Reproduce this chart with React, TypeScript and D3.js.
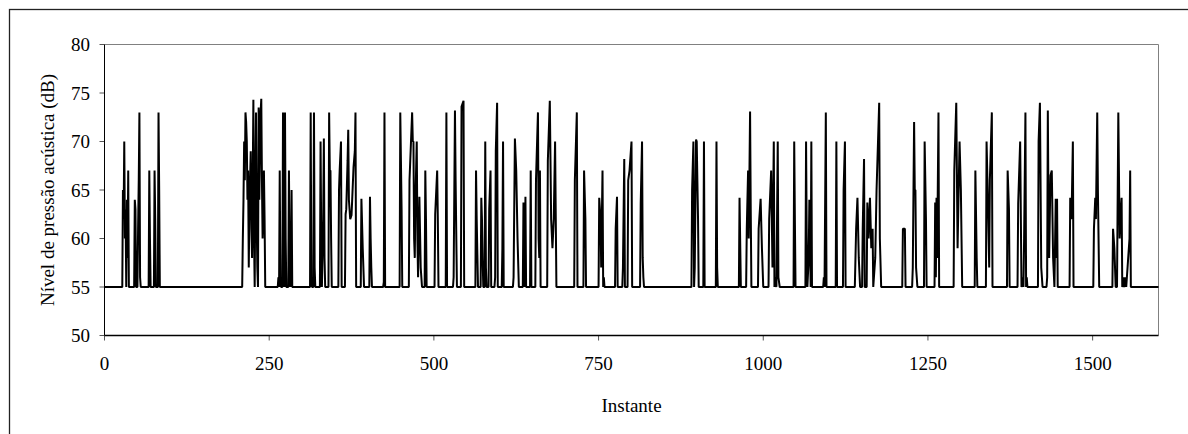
import React from 'react';
import * as d3 from 'd3';

// Instants (x) and sound pressure levels (dB) of the line's vertices
const instants: number[] = [
  0,
  27, 28, 29, 30, 31, 32, 33, 34, 35, 36, 37,
  45, 46, 47, 48,
  50, 51, 52, 53, 54, 55,
  67, 68, 69, 70,
  75, 76, 77, 78,
  81, 82, 83, 84,
  209, 210, 211, 212, 213, 214, 215, 216, 217, 218, 219, 220, 221, 222, 223, 224, 225, 226, 227, 228, 229, 230, 231, 232, 233, 234, 235, 236, 237, 238, 239, 240, 241, 242, 243, 244,
  263, 264, 265, 266, 267, 268,
  270, 271, 272, 273, 274, 275, 276,
  279, 280, 281, 282, 283, 284, 285,
  312, 313, 314, 315,
  317, 318, 319, 320,
  327, 328, 329, 330,
  332, 333, 334, 335,
  340, 341, 342, 343, 344, 345,
  355, 356, 357, 359, 360,
  365, 366, 367, 369, 370, 371, 372, 373, 375, 376, 378, 380, 381, 382,
  389, 390, 392, 394,
  402, 403, 404, 405, 406,
  423, 424, 425, 426,
  448, 449, 451, 452,
  462, 463, 467, 468, 469, 470, 471, 472, 474, 475, 476, 478, 480, 482,
  486, 487, 488, 489,
  501, 502, 505, 506, 507,
  518, 519, 520,
  529, 530, 532, 533, 535,
  541, 542, 545, 546,
  563, 564, 565, 567,
  571, 572, 573, 574, 575,
  577, 578, 579, 580,
  583, 584, 586, 587,
  592, 593, 594, 596, 597,
  603, 604, 605, 606,
  620, 621, 623, 625, 627, 629,
  635, 636, 637, 638, 639, 640,
  646, 647, 648,
  654, 655, 658, 659, 660, 661, 662,
  672, 673, 676, 678, 680, 682, 684, 686,
  713, 714, 717, 718,
  727, 728, 730, 731,
  750, 751, 753, 754, 756, 757, 758, 759,
  775, 776, 778, 779,
  786, 787, 789, 790,
  794, 795, 797, 800, 801,
  813, 814, 816, 817, 818, 819,
  891, 892, 894, 895, 896, 898, 899, 901, 902,
  909, 910, 911,
  928, 929, 930, 931,
  963, 964, 966,
  974, 975, 977, 978, 980, 981, 982,
  992, 993, 996, 998, 1000,
  1008, 1009, 1012, 1014, 1016, 1017, 1018, 1020, 1022, 1023, 1025,
  1046, 1047, 1048, 1049,
  1064, 1065, 1066, 1067, 1069, 1070, 1072, 1073, 1074,
  1091, 1092, 1093, 1095, 1096,
  1110, 1111, 1112,
  1121, 1122, 1124, 1125,
  1139, 1141, 1143, 1145, 1147,
  1150, 1151, 1153, 1154,
  1157, 1158, 1160, 1162, 1164, 1166, 1167,
  1170, 1172, 1176, 1177, 1179,
  1211, 1212, 1215, 1216,
  1226, 1227, 1229, 1230, 1231, 1232, 1234,
  1244, 1245, 1247, 1248,
  1260, 1261, 1262, 1263, 1264, 1266, 1267,
  1289, 1290, 1293, 1295, 1298, 1300, 1302,
  1321, 1322, 1324, 1325,
  1338, 1339, 1341, 1343, 1344, 1347, 1348,
  1370, 1371, 1373, 1374,
  1386, 1387, 1390, 1392, 1394, 1395, 1396, 1398, 1399, 1400, 1401,
  1417, 1418, 1420, 1422, 1424,
  1430, 1431, 1432, 1433, 1434, 1436, 1438, 1440, 1442, 1444, 1445, 1446, 1447,
  1465, 1466, 1468, 1470, 1471,
  1501, 1502, 1504, 1505, 1507, 1508, 1510,
  1530, 1531, 1533, 1535, 1537, 1539, 1541, 1543, 1544, 1545, 1547, 1548, 1550, 1551, 1556, 1557, 1558,
  1600,
];

const levels: number[] = [
  55,
  55, 65, 62, 70, 60, 63, 55, 64, 58, 67, 55,
  55, 64, 63, 55,
  55, 61, 66, 73, 56, 55,
  55, 67, 60, 55,
  55, 67, 62, 55,
  55, 73, 65, 55,
  55, 60, 64, 70, 66, 73, 72, 70, 64, 67, 57, 63, 66, 69, 61, 58, 66, 74.3, 60, 55, 66, 73, 62, 57, 55, 73.5, 64, 69, 73, 74.4, 66, 60, 63, 67, 62, 55,
  55, 56, 55, 67, 56, 55,
  55, 73, 58, 55, 73, 60, 55,
  55, 67, 58, 55, 56, 65, 55,
  55, 73, 56, 55,
  55, 73, 57, 55,
  55, 70, 60, 55,
  62, 70.3, 58, 55,
  55, 73, 67, 67, 60, 55,
  55, 65, 67, 70, 55,
  55, 62.5, 63, 68, 71.2, 64, 63, 62, 62.4, 64, 67.3, 69, 73, 55,
  55, 64.1, 59, 55,
  55, 64.3, 60, 57, 55,
  55, 55.5, 73, 55,
  55, 73, 63, 55,
  55, 66, 73, 70, 70, 60, 58, 64, 70, 60, 56, 64.3, 57, 55,
  55, 67, 62, 55,
  55, 62.5, 67, 62, 55,
  55, 73, 55,
  55, 56, 73.2, 66, 55,
  55, 73.6, 74.2, 55,
  55, 67, 62, 55,
  55, 64.2, 62, 58, 55,
  55, 70, 57, 55,
  55, 63, 67, 55,
  55, 56, 69, 74, 55,
  55, 59, 70, 55,
  55, 56, 70.3, 67, 60, 55,
  55, 63.7, 60, 55, 64.3, 55,
  55, 67, 55,
  55, 66, 73, 60, 58, 67, 55,
  55, 68, 74.2, 62, 59, 62, 70, 55,
  55, 66, 73, 55,
  55, 67, 62, 55,
  55, 64.2, 62, 57, 67, 55, 56, 55,
  55, 61, 64.3, 55,
  55, 57, 68.2, 55,
  55, 66, 67, 70, 55,
  55, 63.6, 70, 58, 56, 55,
  55, 65, 70, 55, 57, 70.2, 70, 62, 55,
  55, 70, 55,
  55, 70, 57, 55,
  55, 64.2, 55,
  55, 61, 67, 60, 73.1, 63, 55,
  55, 61, 64.1, 59, 55,
  55, 62, 67, 57, 70, 55, 56, 55, 70, 56, 55,
  55, 70, 62, 55,
  55, 70, 60, 55, 58, 64, 55, 70, 55,
  55, 56, 55, 73, 55,
  55, 70, 55,
  55, 65, 70, 55,
  55, 61, 64.2, 58, 55,
  55, 61, 68.2, 55,
  55, 63.7, 60, 64.2, 59, 61, 55,
  58, 65, 74, 60, 55,
  55, 61, 61, 55,
  55, 57, 72, 65, 65, 57, 55,
  55, 70, 62, 55,
  55, 63.7, 56, 64.2, 58, 73, 55,
  55, 67, 74, 59, 70, 65, 55,
  55, 67, 58, 55,
  55, 70, 64, 57, 66, 73, 55,
  55, 67, 63, 55,
  55, 63.6, 70, 55, 56, 55, 60, 73, 55, 56, 55,
  55, 70, 74, 57, 55,
  55, 56, 73.2, 63, 58, 66.5, 67, 58, 55, 64.1, 58, 64.1, 55,
  55, 64.2, 62, 70, 55,
  55, 61, 64.2, 62, 73, 65, 55,
  55, 61, 59, 55, 55, 73, 60, 63, 64.2, 55, 56, 55, 56, 55, 60, 67, 55,
  55,
];

const xTicks = [0, 250, 500, 750, 1000, 1250, 1500];
const yTicks = [50, 55, 60, 65, 70, 75, 80];
const xDomain = [0, 1600];
const yDomain = [50, 80];
const xTitle = 'Instante';
const yTitle = 'Nível de pressão acústica (dB)';

const FONT = "'Liberation Serif', 'Times New Roman', serif";

export default function App() {
  const W = 1188;
  const H = 434;
  const left = 104.5, right = 1158.5, top = 44.5, bottom = 335.5;
  const x = d3.scaleLinear().domain(xDomain).range([left, right]);
  const y = d3.scaleLinear().domain(yDomain).range([bottom, top]);
  const n = Math.min(instants.length, levels.length);
  const pts: [number, number][] = d3.range(n).map((i) => [instants[i], levels[i]]);
  const line = d3
    .line<[number, number]>()
    .x((d) => x(d[0]))
    .y((d) => y(d[1]));

  return (
    <svg
      width={W}
      height={H}
      style={{ position: 'absolute', left: 0, top: 0, background: '#fff' }}
      fontFamily={FONT}
    >
      <rect x={0} y={0} width={W} height={H} fill="#fff" />
      {/* outer chart frame */}
      <rect x={9.5} y={9.5} width={W + 20} height={H + 20} fill="none" stroke="#222" strokeWidth={1.3} />
      {/* plot area border: top and right gray */}
      <line x1={left} x2={right} y1={top} y2={top} stroke="#808080" strokeWidth={1} />
      <line x1={right} x2={right} y1={top} y2={bottom} stroke="#808080" strokeWidth={1} />
      {/* y ticks and labels */}
      {yTicks.map((t) => (
        <g key={'y' + t}>
          <line x1={left - 5} x2={left} y1={y(t)} y2={y(t)} stroke="#555" strokeWidth={1} />
          <text x={90} y={y(t)} dy="0.35em" textAnchor="end" fontSize={19} fill="#000">
            {t}
          </text>
        </g>
      ))}
      {/* x ticks and labels */}
      {xTicks.map((t) => (
        <g key={'x' + t}>
          <line x1={x(t)} x2={x(t)} y1={bottom} y2={bottom + 5} stroke="#555" strokeWidth={1} />
          <text x={x(t)} y={363} dy="0.35em" textAnchor="middle" fontSize={19} fill="#000">
            {t}
          </text>
        </g>
      ))}
      {/* data line */}
      <path
        d={line(pts) || ''}
        fill="none"
        stroke="#000"
        strokeWidth={2}
        strokeLinejoin="bevel"
      />
      {/* axes */}
      <line x1={left} x2={left} y1={top} y2={bottom} stroke="#000" strokeWidth={1} />
      <line x1={left} x2={right} y1={bottom} y2={bottom} stroke="#000" strokeWidth={1.6} />
      {/* titles */}
      <text x={(left + right) / 2} y={405} dy="0.35em" textAnchor="middle" fontSize={19} fill="#000">
        {xTitle}
      </text>
      <text
        transform={`translate(47,${(top + bottom) / 2}) rotate(-90)`}
        dy="0.35em"
        textAnchor="middle"
        fontSize={19}
        fill="#000"
      >
        {yTitle}
      </text>
    </svg>
  );
}
